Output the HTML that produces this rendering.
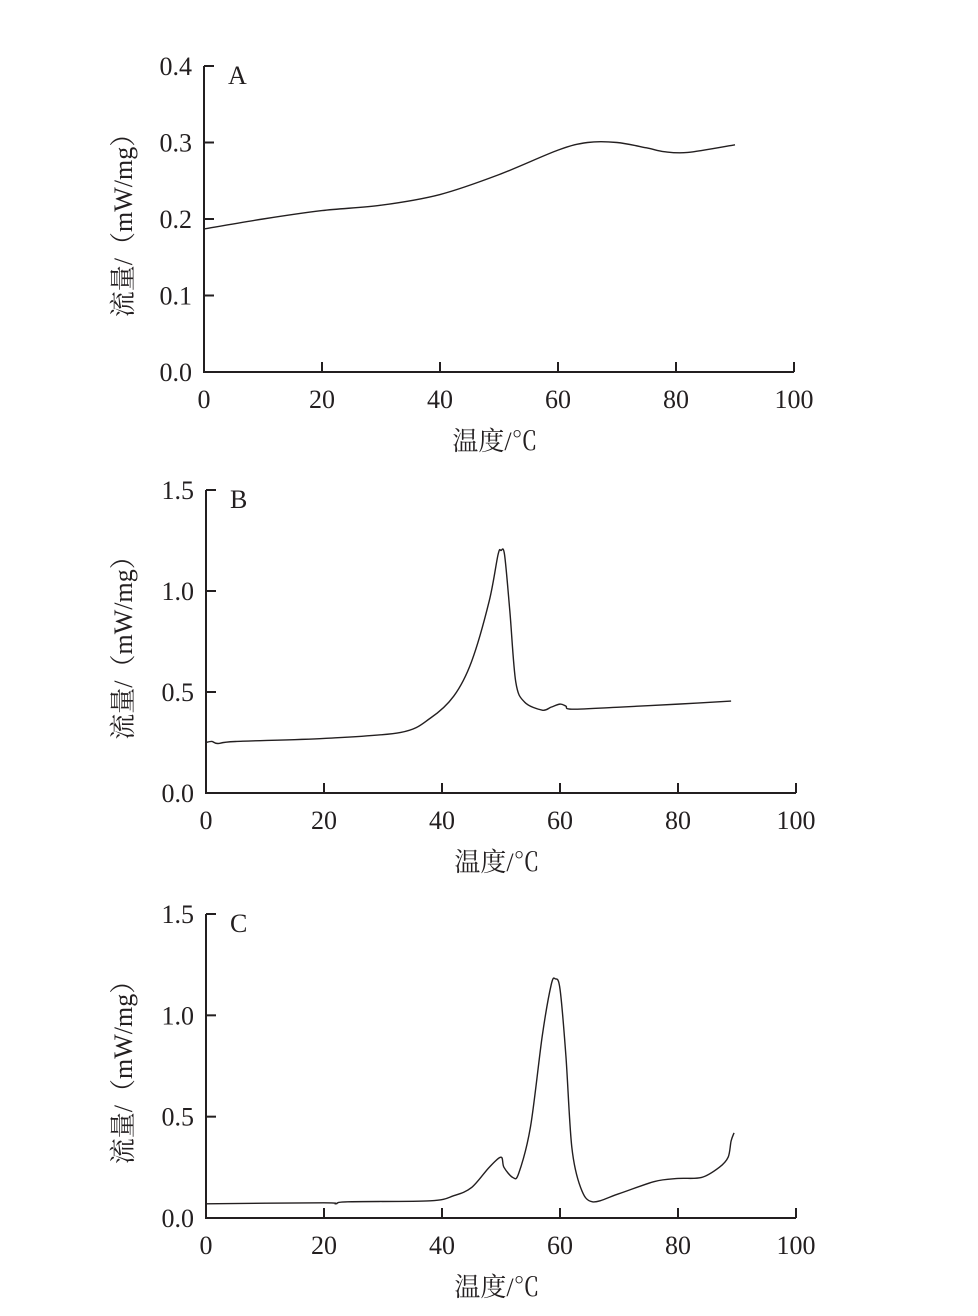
<!DOCTYPE html>
<html><head><meta charset="utf-8"><style>
body{margin:0;background:#fff}
svg text{font-family:"Liberation Serif","Noto Serif CJK SC",serif;fill:#231f20}
</style></head><body>
<svg width="978" height="1311" xmlns="http://www.w3.org/2000/svg">
<g id="root"></g>
</svg>
<script>
const xTicks=[0,20,40,60,80,100];
const aYTicks=[0,0.1,0.2,0.3,0.4];
const bYTicks=[0,0.5,1.0,1.5];
const cYTicks=[0,0.5,1.0,1.5];
const aX=[0,10,20,30,40,50,60,65,70,75,78,82,90];
const aY=[0.187,0.2,0.211,0.218,0.232,0.258,0.29,0.3,0.3,0.293,0.288,0.287,0.297];
const bX=[0,1,2,5,20,33,38,42,45,48,49.5,50,50.6,51.5,52.5,54,57,58.5,60,61,62,70,80,89];
const bY=[0.25,0.255,0.245,0.255,0.27,0.3,0.37,0.48,0.65,0.95,1.18,1.2,1.18,0.9,0.55,0.45,0.41,0.425,0.44,0.43,0.415,0.425,0.44,0.455];
const cX=[0,20,22,24,38,42,45,48,50,50.5,52,53,55,57,58.5,59.2,60,61,62,63.5,65.5,70,76,80,84,87,88.5,89,89.5];
const cY=[0.07,0.075,0.07,0.08,0.085,0.11,0.15,0.25,0.3,0.25,0.2,0.22,0.45,0.9,1.15,1.18,1.13,0.8,0.35,0.15,0.08,0.12,0.18,0.195,0.2,0.25,0.3,0.38,0.42];
const NS="http://www.w3.org/2000/svg";
const root=document.getElementById('root');
function mk(tag,attrs,parent){const e=document.createElementNS(NS,tag);for(const k in attrs)e.setAttribute(k,attrs[k]);parent.appendChild(e);return e;}
function panel(key,letter,x0,x1,y0,y1,ymax,yTicks,xs,ys,fmt){
  const g=mk('g',{},root);
  
  
  const sx=v=>x0+(x1-x0)*v/100, sy=v=>y0-(y0-y1)*v/ymax;
  const ax=mk('path',{d:`M${x0} ${y1}V${y0}H${x1}`,stroke:'#231f20','stroke-width':2,fill:'none'},g);
  
  
  yTicks.forEach(t=>{
    const l=mk('line',{x1:x0,x2:x0+10,y1:sy(t),y2:sy(t),stroke:'#231f20','stroke-width':2},g);
    
    
    const tx=mk('text',{x:x0-12,y:sy(t)+9,'text-anchor':'end','font-size':26},g);
    tx.textContent=t.toFixed(1);
    
    
  });
  xTicks.forEach(t=>{
    const l=mk('line',{x1:sx(t),x2:sx(t),y1:y0,y2:y0-10,stroke:'#231f20','stroke-width':2},g);
    
    
    const tx=mk('text',{x:sx(t),y:y0+36,'text-anchor':'middle','font-size':26},g);
    tx.textContent=t;
    
    
  });
  const lt=mk('text',{x:x0+24,y:y1+18,'font-size':26},g);
  lt.textContent=letter;
  
  
  const xt=mk('text',{x:(x0+x1)/2-4,y:y0+78,'text-anchor':'middle','font-size':26},g);
  xt.textContent='温度/℃';
  
  
  const cy=(y0+y1)/2;
  const yt=mk('text',{x:0,y:0,'text-anchor':'middle','font-size':26,transform:`translate(132 ${cy}) rotate(-90)`},g);
  yt.textContent='流量/（mW/mg）';
  
  
  const P=xs.map((x,i)=>[sx(x),sy(ys[i])]);
  let d=`M${P[0][0]} ${P[0][1]}`;
  for(let i=0;i<P.length-1;i++){
    const p0=P[Math.max(0,i-1)],p1=P[i],p2=P[i+1],p3=P[Math.min(P.length-1,i+2)];
    const t=0.16;
    d+=`C${p1[0]+(p2[0]-p0[0])*t} ${p1[1]+(p2[1]-p0[1])*t} ${p2[0]-(p3[0]-p1[0])*t} ${p2[1]-(p3[1]-p1[1])*t} ${p2[0]} ${p2[1]}`;
  }
  const c=mk('path',{d:d,stroke:'#231f20','stroke-width':1.4,fill:'none'},g);
  
  
}
panel('a','A',204,794,372,66,0.4,aYTicks,aX,aY);
panel('b','B',206,796,793,490,1.5,bYTicks,bX,bY);
panel('c','C',206,796,1218,914,1.5,cYTicks,cX,cY);
</script>
</body></html>
